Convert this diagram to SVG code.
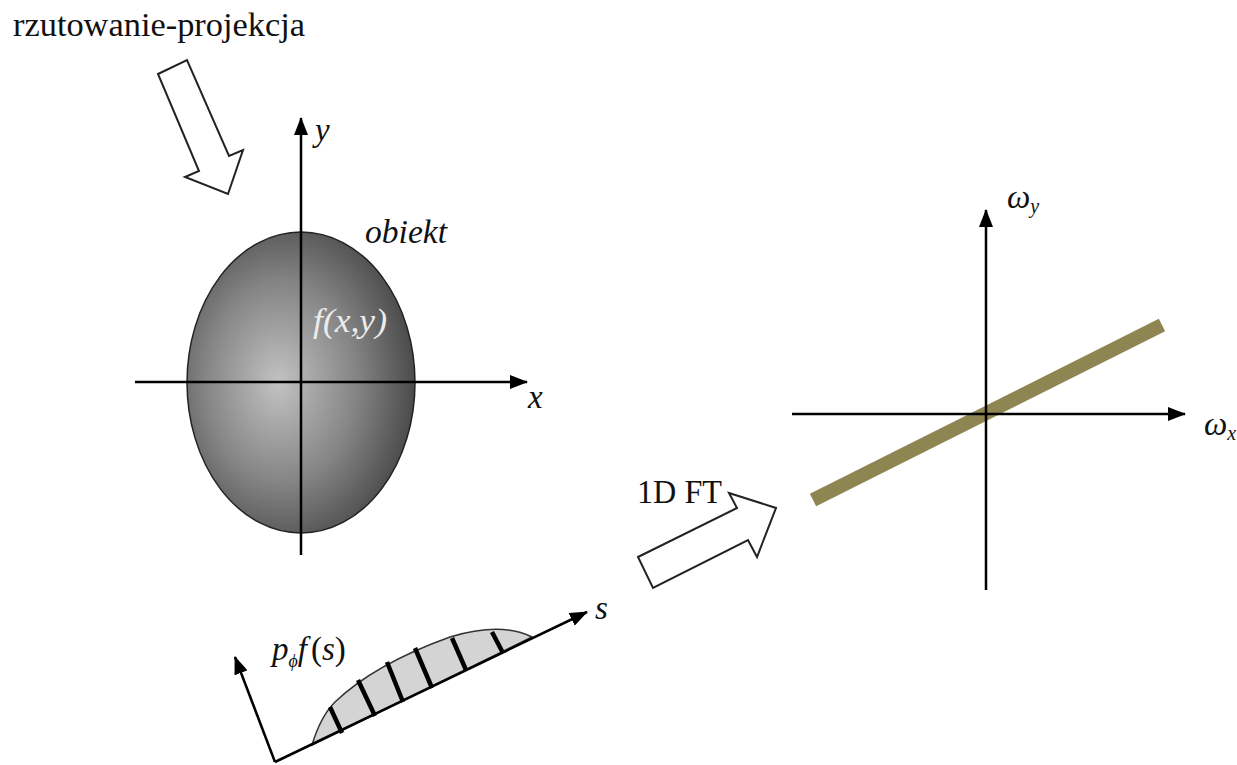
<svg xmlns="http://www.w3.org/2000/svg" width="1237" height="765" viewBox="0 0 1237 765">
<style>
text{font-family:"Liberation Serif","DejaVu Serif","Times New Roman",serif;font-size:33px;fill:#111}
.i{font-style:italic}
.ax{stroke:#000;stroke-width:2.5;fill:none}
.blk{fill:#fff;stroke:#222;stroke-width:2;stroke-linejoin:miter}
.hatch{stroke:#000;stroke-width:4.5;stroke-linecap:butt}
</style>
<defs>
<marker id="ah" markerUnits="userSpaceOnUse" markerWidth="18" markerHeight="14" refX="17" refY="7" orient="auto">
<path d="M0,0 L18,7 L0,14 z" fill="#000"/>
</marker>
<radialGradient id="g" cx="0.42" cy="0.5" r="0.6" fx="0.4" fy="0.5">
<stop offset="0" stop-color="#c2c2c2"/>
<stop offset="0.55" stop-color="#858585"/>
<stop offset="1" stop-color="#474747"/>
</radialGradient>
</defs>
<rect width="1237" height="765" fill="#fff"/>

<g id="title">
<text font-family="Liberation Serif, DejaVu Serif, serif" x="13" y="36" textLength="292" lengthAdjust="spacingAndGlyphs">rzutowanie-projekcja</text>
</g>

<g id="projection-arrow">
<polygon class="blk" points="158,74 187,60 229,156 243,150 228,194 185,177 199,171"/>
</g>

<g id="object">
<ellipse cx="301" cy="382.5" rx="114" ry="150.5" fill="url(#g)" stroke="#222" stroke-width="1.5"/>
<text class="i" font-family="Liberation Serif, DejaVu Serif, serif" x="365" y="243" textLength="82" lengthAdjust="spacingAndGlyphs">obiekt</text>
<text class="i" font-family="Liberation Serif, DejaVu Serif, serif" x="313" y="332" font-size="34" style="fill:#ececec" textLength="74" lengthAdjust="spacingAndGlyphs">f(x,y)</text>
</g>

<g id="projection">
<path d="M312,745 C318,725 325,712 335,702 C360,678 400,655 450,637 C480,628 510,626 532,637 L312,745 Z" fill="#d4d4d4" stroke="#333" stroke-width="1.5"/>
<line class="hatch" x1="330" y1="707" x2="342" y2="733"/>
<line class="hatch" x1="358" y1="680" x2="375" y2="716"/>
<line class="hatch" x1="387" y1="662" x2="403" y2="702"/>
<line class="hatch" x1="415" y1="648" x2="432" y2="688"/>
<line class="hatch" x1="452" y1="638" x2="466" y2="670"/>
<line class="hatch" x1="492" y1="632" x2="503" y2="653"/>
<text class="i" font-family="Liberation Serif, DejaVu Serif, serif" x="272" y="660">p<tspan font-size="18" dy="7">ϕ</tspan><tspan dy="-7">f</tspan><tspan font-style="normal" dx="4">(</tspan>s<tspan font-style="normal">)</tspan></text>
<text class="i" font-family="Liberation Serif, DejaVu Serif, serif" x="595" y="619">s</text>
</g>

<g id="ft-arrow">
<polygon class="blk" points="638,557 737,508 729,493 776,508 757,557 748,540 653,588"/>
<text font-family="Liberation Serif, DejaVu Serif, serif" x="637" y="503" textLength="85" lengthAdjust="spacingAndGlyphs">1D FT</text>
</g>

<g id="frequency">
<line x1="813" y1="500" x2="1162" y2="325" stroke="#8f8553" stroke-width="14"/>
<text class="i" font-family="Liberation Serif, DejaVu Serif, serif" x="1007" y="208" font-size="30">ω<tspan font-size="20" dy="5">y</tspan></text>
<text class="i" font-family="Liberation Serif, DejaVu Serif, serif" x="1204" y="435" font-size="30">ω<tspan font-size="20" dy="5">x</tspan></text>
</g>

<g id="connectors">
<line class="ax" x1="301" y1="555" x2="301" y2="118" marker-end="url(#ah)"/>
<line class="ax" x1="135" y1="382" x2="527" y2="382" marker-end="url(#ah)"/>
<line class="ax" x1="275" y1="762" x2="587" y2="612" marker-end="url(#ah)"/>
<line class="ax" x1="275" y1="762" x2="235" y2="657" marker-end="url(#ah)"/>
<line class="ax" x1="986" y1="590" x2="986" y2="210" marker-end="url(#ah)"/>
<line class="ax" x1="792" y1="414" x2="1185" y2="414" marker-end="url(#ah)"/>
</g>
<g id="labels">
<text class="i" font-family="Liberation Serif, DejaVu Serif, serif" x="315" y="141">y</text>
<text class="i" font-family="Liberation Serif, DejaVu Serif, serif" x="528" y="408">x</text>
</g>
</svg>
